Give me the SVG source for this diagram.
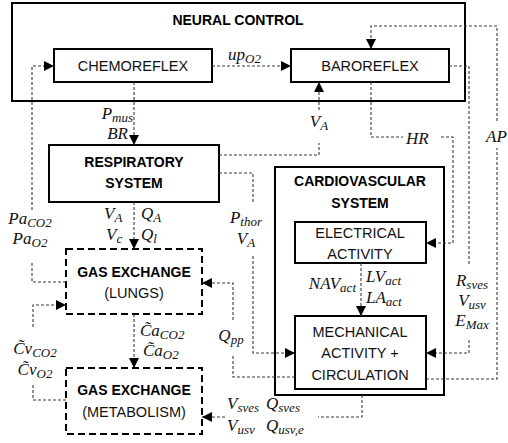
<svg xmlns="http://www.w3.org/2000/svg" width="508" height="443" viewBox="0 0 508 443">
<style>
.box{fill:#fff;stroke:#000;stroke-width:2}
.dbox{fill:#fff;stroke:#000;stroke-width:2;stroke-dasharray:7,4}
.t{font-family:"Liberation Sans",Arial,sans-serif;font-size:14.5px;fill:#111;text-anchor:middle}
.b{font-family:"Liberation Sans",Arial,sans-serif;font-size:14px;font-weight:bold;fill:#000;text-anchor:middle}
.m{font-family:"Liberation Serif","Times New Roman",serif;font-style:italic;font-size:17px;fill:#111}
.s{font-size:13px}
.c{fill:none;stroke:#3a3a3a;stroke-width:1.1;stroke-dasharray:3,2}
</style>
<defs>
<marker id="ah" viewBox="0 0 10 10" refX="10" refY="5" markerWidth="10" markerHeight="11" markerUnits="userSpaceOnUse" orient="auto">
<path d="M0,0 L10,5 L0,10 z" fill="#000"/>
</marker>
</defs>

<g id="neural-control">
<rect class="box" x="12" y="3" width="453" height="98"/>
<text class="b" x="238" y="25">NEURAL CONTROL</text>
</g>
<g id="chemoreflex">
<rect class="box" x="54" y="49" width="158" height="33"/>
<text class="t" x="133" y="71">CHEMOREFLEX</text>
</g>
<g id="baroreflex">
<rect class="box" x="291" y="49" width="158" height="33"/>
<text class="t" x="370" y="71">BAROREFLEX</text>
</g>
<g id="respiratory-system">
<rect class="box" x="49" y="145" width="170" height="57"/>
<text class="b" x="134" y="167">RESPIRATORY</text>
<text class="b" x="134" y="188">SYSTEM</text>
</g>
<g id="gas-exchange-lungs">
<rect class="dbox" x="66" y="249" width="136" height="65"/>
<text class="b" x="134" y="277">GAS EXCHANGE</text>
<text class="t" x="134" y="298">(LUNGS)</text>
</g>
<g id="gas-exchange-metabolism">
<rect class="dbox" x="66" y="368" width="136" height="66"/>
<text class="b" x="134" y="395">GAS EXCHANGE</text>
<text class="t" x="134" y="417">(METABOLISM)</text>
</g>
<g id="cardiovascular-system">
<rect class="box" x="275" y="167" width="169" height="228" stroke-width="2.5"/>
<text class="b" x="360" y="186">CARDIOVASCULAR</text>
<text class="b" x="360" y="208">SYSTEM</text>
</g>
<g id="electrical-activity">
<rect class="box" x="295" y="222" width="131" height="41"/>
<text class="t" x="360" y="238">ELECTRICAL</text>
<text class="t" x="360" y="259">ACTIVITY</text>
</g>
<g id="mechanical-activity">
<rect class="box" x="295" y="316" width="131" height="73"/>
<text class="t" x="360" y="337">MECHANICAL</text>
<text class="t" x="360" y="358">ACTIVITY +</text>
<text class="t" x="360" y="380">CIRCULATION</text>
</g>

<g id="connectors">
<path class="c" d="M212,66 H291" marker-end="url(#ah)"/>
<path class="c" d="M134,82 V145" marker-end="url(#ah)"/>
<path class="c" d="M134,202 V249" marker-end="url(#ah)"/>
<path class="c" d="M134,314 V368" marker-end="url(#ah)"/>
<path class="c" d="M66,282 H32 V262"/>
<path class="c" d="M32,210 V66 H54" marker-end="url(#ah)"/>
<path class="c" d="M66,400 H33 V383"/>
<path class="c" d="M33,327 V305 H66" marker-end="url(#ah)"/>
<path class="c" d="M219,155 H319 V143"/>
<path class="c" d="M319,110 V82" marker-end="url(#ah)"/>
<path class="c" d="M219,173 H253 V203"/>
<path class="c" d="M253,256 V353 H295" marker-end="url(#ah)"/>
<path class="c" d="M295,377 H233 V355"/>
<path class="c" d="M233,320 V283 H202" marker-end="url(#ah)"/>
<path class="c" d="M371,82 V137 H403"/>
<path class="c" d="M441,137 H453 V243 H426" marker-end="url(#ah)"/>
<path class="c" d="M426,379 H497 V148"/>
<path class="c" d="M497,121 V26 H371 V49" marker-end="url(#ah)"/>
<path class="c" d="M449,66 H469 V264"/>
<path class="c" d="M469,340 V353 H426" marker-end="url(#ah)"/>
<path class="c" d="M361,263 V316" marker-end="url(#ah)"/>
<path class="c" d="M362,395 V417 H318"/>
<path class="c" d="M225,417 H202" marker-end="url(#ah)"/>
</g>

<g id="labels">
<text class="m" x="228" y="60">up<tspan class="s" dy="3">O2</tspan></text>
<text class="m" x="133" y="119" text-anchor="end">P<tspan class="s" dy="3">mus</tspan></text>
<text class="m" x="128" y="139" text-anchor="end">BR</text>
<text class="m" x="319" y="127" text-anchor="middle">V<tspan class="s" dy="3">A</tspan></text>
<text class="m" x="406" y="144">HR</text>
<text class="m" x="486" y="142">AP</text>
<text class="m" x="30" y="224" text-anchor="middle">Pa<tspan class="s" dy="3">CO2</tspan></text>
<text class="m" x="30" y="244" text-anchor="middle">Pa<tspan class="s" dy="3">O2</tspan></text>
<text class="m" x="104" y="219">V<tspan class="s" dy="3">A</tspan></text>
<text class="m" x="106" y="240">V<tspan class="s" dy="3">c</tspan></text>
<text class="m" x="141" y="219">Q<tspan class="s" dy="3">A</tspan></text>
<text class="m" x="141" y="240">Q<tspan class="s" dy="3">l</tspan></text>
<text class="m" x="246" y="223" text-anchor="middle">P<tspan class="s" dy="3">thor</tspan></text>
<text class="m" x="246" y="244" text-anchor="middle">V<tspan class="s" dy="3">A</tspan></text>
<text class="m" x="231" y="341" text-anchor="middle">Q<tspan class="s" dy="3">pp</tspan></text>
<text class="m" x="140" y="336">C&#x303;a<tspan class="s" dy="3">CO2</tspan></text>
<text class="m" x="143" y="356">C&#x303;a<tspan class="s" dy="3">O2</tspan></text>
<text class="m" x="35" y="354" text-anchor="middle">C&#x303;v<tspan class="s" dy="3">CO2</tspan></text>
<text class="m" x="35" y="375" text-anchor="middle">C&#x303;v<tspan class="s" dy="3">O2</tspan></text>
<text class="m" x="356" y="289" text-anchor="end">NAV<tspan class="s" dy="3">act</tspan></text>
<text class="m" x="366" y="282">LV<tspan class="s" dy="3">act</tspan></text>
<text class="m" x="366" y="303">LA<tspan class="s" dy="3">act</tspan></text>
<text class="m" x="472" y="286" text-anchor="middle">R<tspan class="s" dy="3">sves</tspan></text>
<text class="m" x="472" y="306" text-anchor="middle">V<tspan class="s" dy="3">usv</tspan></text>
<text class="m" x="472" y="326" text-anchor="middle">E<tspan class="s" dy="3">Max</tspan></text>
<text class="m" x="227" y="409">V<tspan class="s" dy="3">sves</tspan></text>
<text class="m" x="266" y="409">Q<tspan class="s" dy="3">sves</tspan></text>
<text class="m" x="227" y="431">V<tspan class="s" dy="3">usv</tspan></text>
<text class="m" x="266" y="431">Q<tspan class="s" dy="3">usv,e</tspan></text>
</g>
</svg>
